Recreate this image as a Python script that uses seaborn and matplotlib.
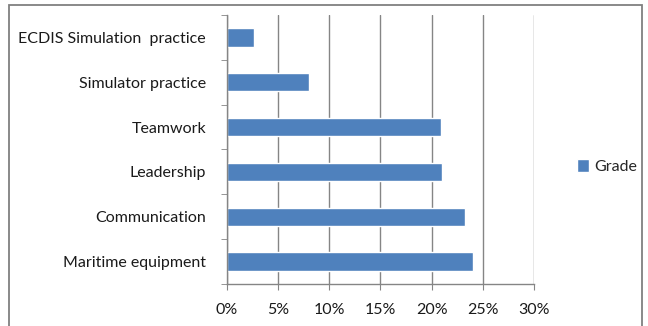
import matplotlib
matplotlib.use("Agg")
import matplotlib.pyplot as plt
import seaborn as sns
import pandas as pd
from matplotlib.patches import Rectangle, Patch
from matplotlib.ticker import FixedLocator, PercentFormatter

categories = ["ECDIS Simulation  practice", "Simulator practice", "Teamwork",
              "Leadership", "Communication", "Maritime equipment"]
grade = [2.7, 8.0, 20.9, 21.0, 23.3, 24.0]
xticks = [0, 5, 10, 15, 20, 25, 30]
series_name = "Grade"

bar_color = "#4F81BD"
grid_color = "#858585"

sns.set_style("white")
plt.rcParams["font.family"] = ["Lato", "DejaVu Sans"]

df = pd.DataFrame({"category": categories, "value": grade})

fig = plt.figure(figsize=(6.48, 3.26), dpi=100)
ax = fig.add_axes([0.350, 0.129, 0.474, 0.825])

sns.barplot(data=df, x="value", y="category", orient="h", color=bar_color,
            width=0.41, ax=ax, saturation=1)

ax.set_xlim(0, 30)
ax.set_ylim(5.5, -0.5)
ax.xaxis.set_major_locator(FixedLocator(xticks))
ax.xaxis.set_major_formatter(PercentFormatter(decimals=0))
ax.set_xlabel("")
ax.set_ylabel("")

ax.grid(axis="x", color=grid_color, linewidth=1.0)
ax.set_axisbelow(True)
for s in ["top", "right"]:
    ax.spines[s].set_visible(False)
for s in ["left", "bottom"]:
    ax.spines[s].set_color(grid_color)
    ax.spines[s].set_linewidth(1.0)

ax.yaxis.set_minor_locator(FixedLocator([i - 0.5 for i in range(len(categories) + 1)]))
ax.tick_params(axis="y", which="major", length=0, pad=15, labelsize=11.5, labelcolor="#1a1a1a")
ax.tick_params(axis="y", which="minor", length=4, color=grid_color, direction="out", left=True)
ax.tick_params(axis="x", which="major", length=4, color=grid_color, direction="out",
               bottom=True, labelsize=11.5, pad=10, labelcolor="#1a1a1a")

# outer chart frame
fig.patches.append(Rectangle((0.0139, -0.1), 0.9768, 1.085, transform=fig.transFigure,
                             fill=False, edgecolor="#808080", linewidth=1.3))

fig.legend(handles=[Patch(facecolor=bar_color, label=series_name)],
           loc="center left", bbox_to_anchor=(0.881, 0.49), frameon=False,
           handlelength=0.75, handleheight=0.9, handletextpad=0.3, fontsize=11.5,
           borderpad=0.2, borderaxespad=0.2)

fig.savefig("out.png", dpi=100)
